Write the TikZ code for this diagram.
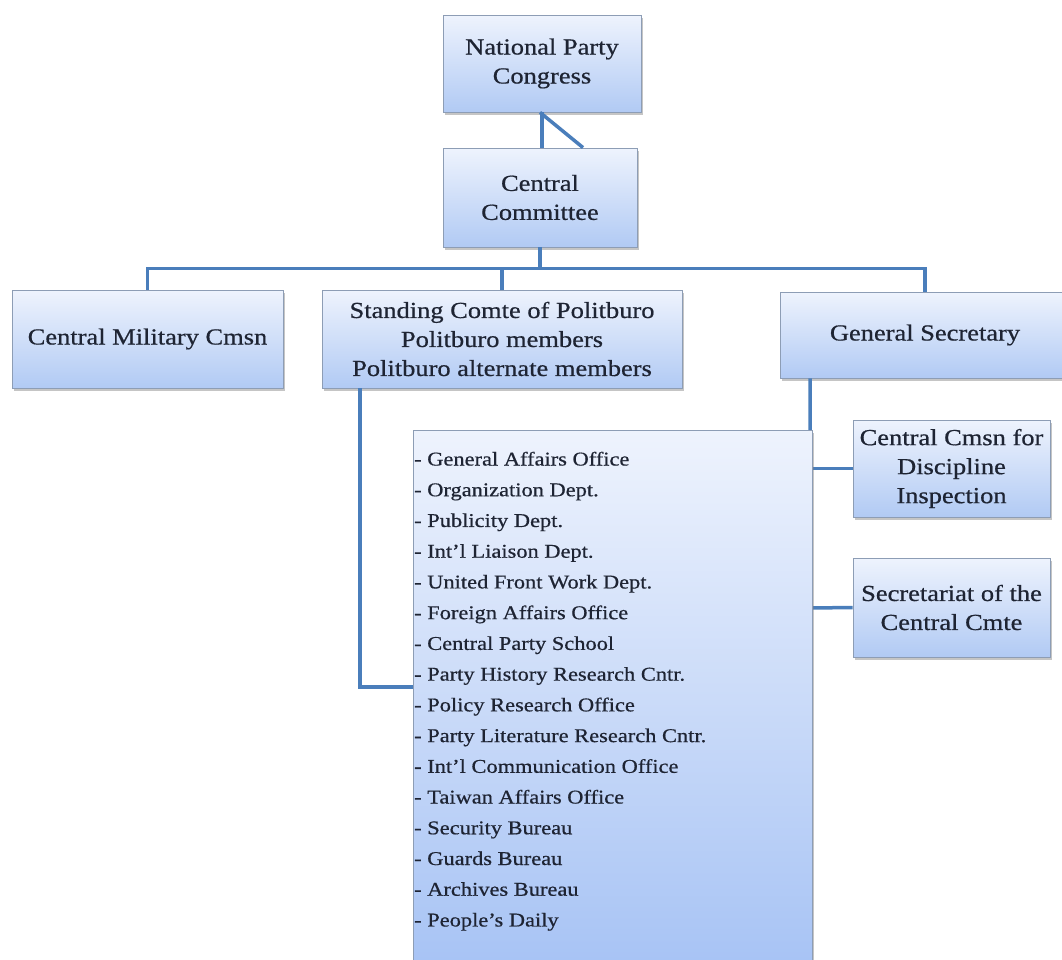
\documentclass[tikz,border=0pt]{standalone}
\usepackage{fontspec}
\setmainfont{Liberation Serif}[FakeStretch=1.15, FakeBold=0.6]
\usetikzlibrary{shadows}

\definecolor{linkblue}{HTML}{4A7EBB}
\definecolor{boxtop}{HTML}{EEF3FD}
\definecolor{boxbottom}{HTML}{B1CAF4}
\definecolor{listbottom}{HTML}{A4C1F4}
\definecolor{boxedge}{HTML}{8D9DB5}
\definecolor{inktext}{HTML}{1E2433}

\tikzset{
 unit/.style={draw=boxedge, line width=0.8pt, top color=boxtop, bottom color=boxbottom,
  align=center, inner sep=0pt, text=inktext, font=\fontsize{23}{29}\selectfont,
  drop shadow={shadow xshift=1.5pt, shadow yshift=-2.5pt, opacity=0.45}},
 link/.style={draw=linkblue, line width=3.5pt},
 item/.style={anchor=base west, inner sep=0pt, text=inktext, font=\fontsize{19.5}{24}\selectfont}
}

\begin{document}
\begin{tikzpicture}[x=1pt, y=-1pt]
\clip (0,0) rectangle (1062,959);
\fill[white] (0,0) rectangle (1062,959);

% boxes
\node[unit, minimum width=198pt, minimum height=97pt] (congress) at (542,63.5) {National Party\\Congress};
\node[unit, minimum width=194pt, minimum height=99pt] (committee) at (540,197.5) {Central\\Committee};
\node[unit, minimum width=271pt, minimum height=98pt] (military) at (147.5,339) {Central Military Cmsn};
\node[unit, minimum width=360pt, minimum height=98pt] (politburo) at (502,339) {Standing Comte of Politburo\\Politburo members\\Politburo alternate members};
\node[unit, minimum width=290pt, minimum height=86pt] (secretary) at (925,335) {General Secretary};
\node[unit, minimum width=197pt, minimum height=97pt] (discipline) at (951.5,468.5) {Central Cmsn for\\Discipline\\Inspection};
\node[unit, minimum width=197pt, minimum height=99pt] (secretariat) at (951.5,607.5) {Secretariat of the\\Central Cmte};

% connectors
\coordinate (pbend) at (360,687);
\coordinate (gsline) at (810,608);
\draw[link] (congress.south) -- (congress.south |- committee.north);
\draw[link] ([xshift=-2pt]congress.south) -- ([xshift=43pt]committee.north);
\draw[link] (committee.south) -- ++(0,21) coordinate (bar) -| (military.north);
\draw[link] (bar) -| (secretary.north);
\draw[link] (bar -| politburo.north) -- (politburo.north);
\draw[link] (politburo.south -| pbend) -- (pbend) -- (pbend -| 413,0);
\draw[link] (secretary.south -| gsline) -- (gsline) -- (secretariat.west);
\draw[link] (discipline.west -| gsline) -- (discipline.west);

% departments
\node[unit, anchor=north west, minimum width=399pt, minimum height=560pt,
 bottom color=listbottom] (offices) at (413,430) {};
\foreach \name [count=\i from 0] in {General Affairs Office, Organization Dept., Publicity Dept.,
 Int'l Liaison Dept., United Front Work Dept., Foreign Affairs Office, Central Party School,
 Party History Research Cntr., Policy Research Office, Party Literature Research Cntr.,
 Int'l Communication Office, Taiwan Affairs Office, Security Bureau, Guards Bureau,
 Archives Bureau, People's Daily}
 \node[item] (office\i) at (414,{465.5+30.73*\i}) {- \name};
\end{tikzpicture}
\end{document}
